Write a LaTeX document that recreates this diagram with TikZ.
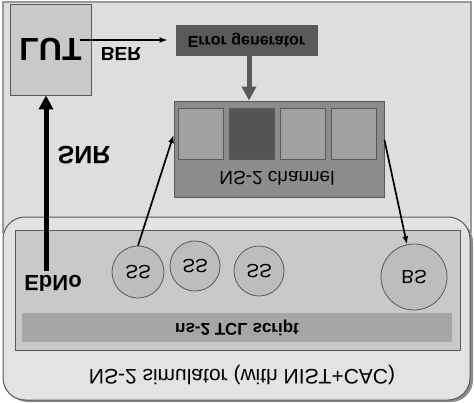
\documentclass[tikz,border=0pt]{standalone}
\usepackage{fontspec}
\setmainfont{Liberation Sans}
\usepackage{xcolor}
\usetikzlibrary{arrows.meta}

\definecolor{paneback}{gray}{0.87}
\definecolor{simback}{gray}{0.89}
\definecolor{areafill}{gray}{0.79}
\definecolor{scriptfill}{gray}{0.65}
\definecolor{stationfill}{gray}{0.74}
\definecolor{lutfill}{gray}{0.79}
\definecolor{chanfill}{gray}{0.55}
\definecolor{slotfill}{gray}{0.63}
\definecolor{slotbusy}{gray}{0.33}
\definecolor{errfill}{gray}{0.35}
\definecolor{edgegray}{gray}{0.35}

\begin{document}
\begin{tikzpicture}[x=1pt,y=1pt,yscale=-1,transform shape,
	pane/.style={draw=black!40,fill=paneback,line width=1.2pt,inner sep=0pt},
	simbox/.style={draw=edgegray,fill=simback,line width=1pt,rounded corners=22pt,inner sep=0pt},
	plainbox/.style={draw=edgegray,line width=0.9pt,inner sep=0pt},
	station/.style={circle,draw=edgegray,fill=stationfill,line width=0.8pt,inner sep=0pt,font=\fontsize{19}{19}\selectfont},
	slot/.style={plainbox,minimum width=45pt,minimum height=51pt},
	thinarrow/.style={-{Latex[length=8pt,width=6pt]},line width=1.7pt},
	fatarrow/.style={-{Triangle[length=14pt,width=14pt]},line width=5pt}]
	% frames
	\useasboundingbox (0,0) rectangle (474,402);
	\node[pane,minimum width=468pt,minimum height=230pt] (upper) at (237,117) {};
	\fill[black!45,rounded corners=22pt] (6,220) rectangle (473,402);
	\node[simbox,minimum width=467pt,minimum height=183pt] (sim) at (236.5,308.5) {};
	\node[font=\fontsize{21}{21}\selectfont] (simtext) at (242,375) {NS-2 simulator (with NIST+CAC)};
	\node[plainbox,fill=areafill,minimum width=445pt,minimum height=120pt] (area) at (237.5,290) {};
	\node[fill=scriptfill,inner sep=0pt,minimum width=430pt,minimum height=29pt,font=\bfseries\fontsize{17}{17}\selectfont] (tcl) at (237,327.5) {ns-2 TCL script};
	% stations
	\node[station,minimum size=52pt] (ss1) at (138,272) {SS};
	\node[station,minimum size=50pt] (ss2) at (195,266) {SS};
	\node[station,minimum size=50pt] (ss3) at (259,271) {SS};
	\node[station,minimum size=66pt] (bs) at (414,277) {BS};
	% lookup side
	\node[plainbox,fill=lutfill,minimum width=81pt,minimum height=91pt,font=\bfseries\fontsize{32}{32}\selectfont] (lut) at (50.5,49.5) {LUT};
	\node[font=\bfseries\fontsize{19}{19}\selectfont] (ber) at (121,54) {BER};
	\node[font=\bfseries\fontsize{22}{22}\selectfont] (ebno) at (53,283) {EbNo};
	\node[font=\bfseries\fontsize{25}{25}\selectfont] (snr) at (84,155) {SNR};
	\node[plainbox,fill=errfill,minimum width=141pt,minimum height=30pt,font=\bfseries\fontsize{16}{16}\selectfont] (errgen) at (246.5,40) {Error generator};
	% channel
	\node[plainbox,fill=chanfill,minimum width=210pt,minimum height=96pt] (chan) at (279,149) {};
	\foreach \i/\c in {0/slotfill,1/slotbusy,2/slotfill,3/slotfill}
		\node[slot,fill=\c] (slot\i) at ({200.5+51.3*\i},133.5) {};
	\node[font=\fontsize{19}{19}\selectfont] (chantext) at (277,178) {NS-2 channel};
	% links
	\coordinate (berstart) at (80,40);
	\draw[thinarrow,shorten >=8pt] (berstart) -- (errgen.west);
	\draw[fatarrow,draw=edgegray] ([xshift=2.5pt]errgen.north) -- ([xshift=2.5pt]errgen.north |- chan.south);
	\draw[fatarrow] ([xshift=-7pt]ebno.south) -- ([xshift=-7pt]ebno.south |- lut.north);
	\draw[thinarrow] (ss1.south) -- ([yshift=-14pt]chan.west);
	\draw[thinarrow] ([yshift=-9pt]chan.east) -- (bs);
\end{tikzpicture}
\end{document}
